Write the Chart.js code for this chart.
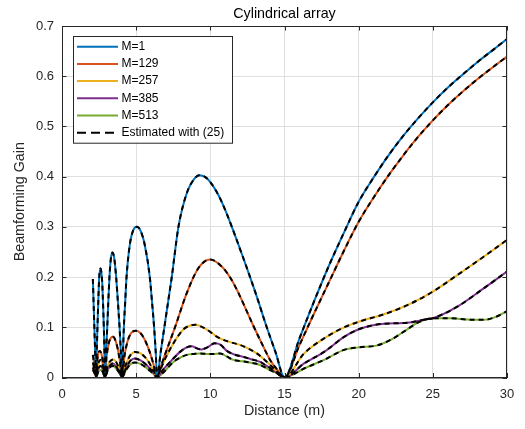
<!DOCTYPE html>
<html>
<head>
<meta charset="utf-8">
<script src="https://cdn.jsdelivr.net/npm/chart.js@4.4.1/dist/chart.umd.min.js"></script>
<style>
  html, body { margin: 0; padding: 0; background: #fff; }
</style>
</head>
<body>
<canvas id="gainChart" width="525" height="429"></canvas>
<script>
// values: [distance (m), beamforming gain]
const gainM1 = [
  [2.08, 0.196], [2.15, 0.13], [2.22, 0.065], [2.30, 0],
  [2.34, 0.05], [2.39, 0.1], [2.45, 0.155], [2.51, 0.2], [2.6, 0.217], [2.66, 0.208], [2.71, 0.19], [2.77, 0.145], [2.82, 0.1], [2.86, 0.05], [2.89, 0],
  [2.97, 0.05], [3.05, 0.1], [3.12, 0.15], [3.2, 0.2], [3.3, 0.238], [3.4, 0.249], [3.52, 0.238], [3.65, 0.2], [3.77, 0.15], [3.88, 0.1], [3.97, 0.05], [4.06, 0],
  [4.11, 0.05], [4.17, 0.1], [4.26, 0.15], [4.35, 0.2], [4.57, 0.264], [4.8, 0.293], [5.05, 0.3], [5.3, 0.292], [5.58, 0.264], [5.92, 0.2], [6.07, 0.15], [6.21, 0.1], [6.32, 0.05], [6.41, 0],
  [6.65, 0.05], [6.9, 0.1], [7.15, 0.15], [7.4, 0.2], [7.85, 0.3], [8.41, 0.367], [8.9, 0.395], [9.27, 0.403], [9.8, 0.396], [10.1, 0.385], [10.55, 0.363], [11.0, 0.334], [11.45, 0.3], [12.1, 0.248], [12.68, 0.2], [13.2, 0.155], [13.69, 0.11], [14.4, 0.05], [15, 0],
  [16, 0.077], [17, 0.152], [18, 0.223], [19, 0.288], [20, 0.35], [21, 0.398], [22, 0.442], [23, 0.481], [24, 0.516], [25, 0.548], [26, 0.577], [27, 0.603], [28, 0.628], [29, 0.651], [30, 0.674]
];
const gainM129 = [
  [2.08, 0.045], [2.18, 0.025], [2.30, 0.003], [2.4, 0.04], [2.55, 0.053], [2.7, 0.042], [2.8, 0.022], [2.89, 0],
  [3.0, 0.04], [3.15, 0.068], [3.3, 0.079], [3.45, 0.081], [3.6, 0.074], [3.75, 0.058], [3.9, 0.033], [4.06, 0],
  [4.2, 0.04], [4.4, 0.07], [4.65, 0.088], [4.98, 0.093], [5.3, 0.088], [5.6, 0.074], [5.9, 0.052], [6.15, 0.028], [6.41, 0],
  [6.7, 0.025], [7.0, 0.05], [7.63, 0.101], [8.41, 0.168], [9.2, 0.218], [9.99, 0.235], [10.8, 0.22], [11.4, 0.196], [11.9, 0.168], [12.9, 0.103], [13.5, 0.066], [14.03, 0.035], [14.5, 0.016], [15, 0],
  [16, 0.064], [17, 0.128], [18, 0.19], [19, 0.252], [20, 0.31], [21, 0.358], [22, 0.402], [23, 0.442], [24, 0.479], [25, 0.512], [26, 0.542], [27, 0.569], [28, 0.594], [29, 0.617], [30, 0.639]
];
const gainM257 = [
  [2.08, 0.03], [2.2, 0.015], [2.30, 0.003], [2.45, 0.028], [2.6, 0.035], [2.75, 0.025], [2.89, 0.002],
  [3.1, 0.025], [3.3, 0.034], [3.47, 0.036], [3.65, 0.031], [3.85, 0.018], [4.06, 0.001],
  [4.3, 0.025], [4.6, 0.044], [4.93, 0.051], [5.3, 0.048], [5.7, 0.037], [6.1, 0.018], [6.41, 0.002],
  [6.62, 0.015], [7.0, 0.04], [7.51, 0.068], [8.19, 0.096], [8.6, 0.103], [8.98, 0.105], [9.5, 0.1], [9.99, 0.091], [10.4, 0.082], [10.88, 0.075], [11.5, 0.069], [12.0, 0.065], [12.6, 0.057], [13.13, 0.048], [13.6, 0.037], [14.03, 0.025], [14.5, 0.012], [15, 0],
  [16.32, 0.048], [17.67, 0.078], [19.02, 0.1], [20, 0.111], [21.71, 0.126], [23.28, 0.144], [25, 0.171], [26.65, 0.204], [28.45, 0.241], [30, 0.274]
];
const gainM385 = [
  [2.08, 0.02], [2.2, 0.01], [2.30, 0.002], [2.45, 0.018], [2.6, 0.023], [2.75, 0.016], [2.89, 0.001],
  [3.1, 0.018], [3.3, 0.026], [3.45, 0.028], [3.65, 0.022], [3.85, 0.012], [4.06, 0.001],
  [4.3, 0.018], [4.6, 0.033], [4.9, 0.038], [5.3, 0.034], [5.7, 0.025], [6.1, 0.012], [6.41, 0.001],
  [6.8, 0.015], [7.51, 0.038], [8.0, 0.052], [8.41, 0.06], [8.75, 0.062], [9.1, 0.058], [9.4, 0.056], [9.8, 0.06], [10.3, 0.068], [10.7, 0.065], [11.11, 0.053], [11.6, 0.046], [12.23, 0.041], [12.8, 0.036], [13.36, 0.031], [13.8, 0.023], [14.25, 0.015], [15, 0],
  [16.32, 0.028], [17.67, 0.051], [19.02, 0.081], [20, 0.096], [20.81, 0.103], [21.71, 0.107], [23.28, 0.109], [24.4, 0.115], [25, 0.118], [26.65, 0.141], [28.45, 0.178], [30, 0.211]
];
const gainM513 = [
  [2.08, 0.015], [2.2, 0.008], [2.30, 0.001], [2.45, 0.012], [2.6, 0.015], [2.75, 0.011], [2.89, 0.001],
  [3.1, 0.016], [3.3, 0.022], [3.45, 0.023], [3.65, 0.018], [3.85, 0.01], [4.06, 0.001],
  [4.3, 0.014], [4.6, 0.026], [4.9, 0.03], [5.3, 0.027], [5.7, 0.019], [6.1, 0.009], [6.41, 0.001],
  [6.9, 0.012], [7.51, 0.031], [8.0, 0.04], [8.41, 0.045], [8.9, 0.047], [9.31, 0.048], [9.8, 0.047], [10.21, 0.047], [10.66, 0.048], [11.1, 0.042], [11.56, 0.035], [12.0, 0.033], [12.46, 0.031], [13.36, 0.025], [14.0, 0.015], [14.5, 0.008], [15, 0],
  [16.32, 0.018], [17.67, 0.035], [19.02, 0.055], [20, 0.06], [21.26, 0.064], [22.16, 0.075], [23.28, 0.096], [23.96, 0.109], [25, 0.118], [26.2, 0.118], [27.55, 0.115], [28.45, 0.115], [29.35, 0.122], [30, 0.132]
];

const seriesLabels = ['M=1', 'M=129', 'M=257', 'M=385', 'M=513'];
const seriesColors = ['#0072BD', '#D95319', '#EDB120', '#7E2F8E', '#77AC30'];
const estimateLabel = 'Estimated with (25)';
const xTickValues = [0, 5, 10, 15, 20, 25, 30];
const yTickValues = [0, 0.1, 0.2, 0.3, 0.4, 0.5, 0.6, 0.7];

const FONT = '"Liberation Sans", Arial, Helvetica, sans-serif';
const AXIS_COLOR = '#262626';

const curves = [gainM1, gainM129, gainM257, gainM385, gainM513];
const toPoints = arr => arr.map(([x, y]) => ({ x, y }));

const datasets = [];
curves.forEach((c, i) => {
  datasets.push({
    label: seriesLabels[i],
    data: toPoints(c),
    borderColor: seriesColors[i],
    borderWidth: 2,
    pointRadius: 0,
    cubicInterpolationMode: 'monotone',
    order: 2
  });
});
// dashed estimate drawn over every curve, only first one goes in the legend
curves.forEach((c, i) => {
  datasets.push({
    label: i === 0 ? estimateLabel : '',
    data: toPoints(c),
    borderColor: '#000',
    borderWidth: 2,
    borderDash: [5, 4],
    pointRadius: 0,
    cubicInterpolationMode: 'monotone',
    order: 1
  });
});

// box around the axes, inward ticks, title and legend (matlab look)
const matlabFrame = {
  id: 'matlabFrame',
  afterDraw(chart) {
    const { ctx, chartArea: a, scales } = chart;
    ctx.save();
    ctx.strokeStyle = AXIS_COLOR;
    ctx.lineWidth = 1;
    ctx.strokeRect(a.left + 0.5, a.top + 0.5, a.right - a.left - 1, a.bottom - a.top);
    const tl = 4.5;
    ctx.beginPath();
    xTickValues.forEach(v => {
      const px = Math.round(scales.x.getPixelForValue(v)) + 0.5;
      ctx.moveTo(px, a.bottom); ctx.lineTo(px, a.bottom - tl);
      ctx.moveTo(px, a.top); ctx.lineTo(px, a.top + tl);
    });
    yTickValues.forEach(v => {
      const py = Math.round(scales.y.getPixelForValue(v)) + 0.5;
      ctx.moveTo(a.left, py); ctx.lineTo(a.left + tl, py);
      ctx.moveTo(a.right, py); ctx.lineTo(a.right - tl, py);
    });
    ctx.stroke();

    // title
    ctx.fillStyle = '#000';
    ctx.font = '14.3px ' + FONT;
    ctx.textAlign = 'center';
    ctx.textBaseline = 'middle';
    ctx.fillText('Cylindrical array', (a.left + a.right) / 2, 14);

    // legend
    const entries = chart.data.datasets.filter(d => d.label);
    const x0 = a.left + 11, y0 = a.top + 10;
    const rowH = 17.2, w = 159, h = entries.length * rowH + 3.5;
    ctx.fillStyle = '#fff';
    ctx.fillRect(x0, y0, w, h);
    ctx.strokeStyle = AXIS_COLOR;
    ctx.strokeRect(x0 + 0.5, y0 + 0.5, w, h);
    ctx.font = '12px ' + FONT;
    ctx.textAlign = 'left';
    entries.forEach((d, i) => {
      const cy = y0 + 10.7 + i * rowH;
      ctx.beginPath();
      ctx.strokeStyle = d.borderColor;
      ctx.lineWidth = 2;
      ctx.setLineDash(d.borderDash ? [9, 5] : []);
      ctx.moveTo(x0 + 4, cy);
      ctx.lineTo(x0 + 45, cy);
      ctx.stroke();
      ctx.setLineDash([]);
      ctx.fillStyle = '#000';
      ctx.fillText(d.label, x0 + 48.5, cy);
    });
    ctx.restore();
  }
};

const ctx = document.getElementById('gainChart').getContext('2d');
const gainChart = new Chart(ctx, {
  type: 'line',
  data: { datasets },
  options: {
    responsive: false,
    animation: false,
    layout: { padding: { top: 26, right: 18, left: 0, bottom: 0 } },
    plugins: {
      legend: { display: false },
      tooltip: { enabled: false }
    },
    scales: {
      x: {
        type: 'linear',
        min: 0,
        max: 30,
        afterBuildTicks: s => { s.ticks = xTickValues.map(v => ({ value: v })); },
        afterFit: s => { s.height = 51.5; },
        grid: { color: '#dfdfdf', drawTicks: false },
        border: { color: AXIS_COLOR },
        ticks: { color: AXIS_COLOR, padding: 9, maxRotation: 0, font: { family: FONT, size: 13 } },
        title: {
          display: true,
          text: 'Distance (m)',
          color: AXIS_COLOR,
          padding: { top: 0, bottom: 9 },
          font: { family: FONT, size: 14.3 }
        }
      },
      y: {
        type: 'linear',
        min: 0,
        max: 0.7,
        afterBuildTicks: s => { s.ticks = yTickValues.map(v => ({ value: v })); },
        afterFit: s => { s.width = 62; },
        grid: { color: '#dfdfdf', drawTicks: false },
        border: { color: AXIS_COLOR },
        ticks: {
          color: AXIS_COLOR,
          padding: 8,
          font: { family: FONT, size: 13 },
          callback: v => (v === 0 ? '0' : v.toFixed(1))
        },
        title: {
          display: true,
          text: 'Beamforming Gain',
          color: AXIS_COLOR,
          padding: { top: 11, bottom: 0 },
          font: { family: FONT, size: 14.3 }
        }
      }
    }
  },
  plugins: [matlabFrame]
});
</script>
</body>
</html>
